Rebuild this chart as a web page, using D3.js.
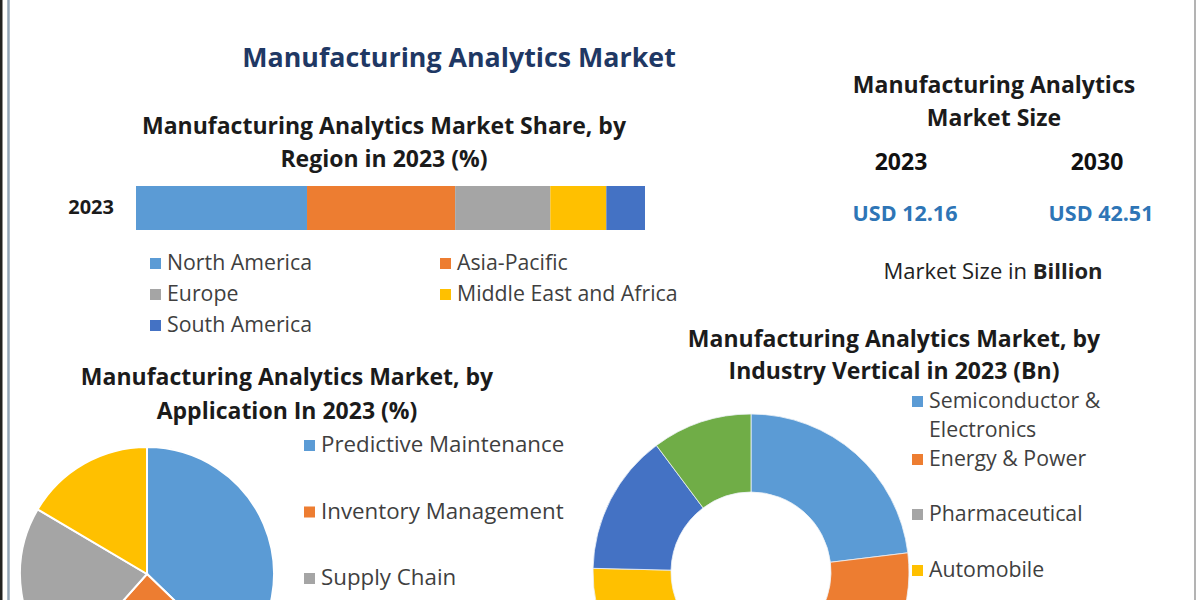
<!DOCTYPE html>
<html>
<head>
<meta charset="utf-8">
<script src="https://cdn.jsdelivr.net/npm/d3@7"></script>
<style>
  html, body { margin: 0; padding: 0; background: #fff; }
  svg { display: block; font-family: 'Open Sans', Lato, sans-serif; }
</style>
</head>
<body>
<div id="chart"></div>
<script>
// region share bar (%)
const regions = ['North America', 'Asia-Pacific', 'Europe', 'Middle East and Africa', 'South America']
const regionShare = [33.6, 29.1, 18.7, 11.0, 7.6]

// application pie (%)
const applications = ['Predictive Maintenance', 'Inventory Management', 'Supply Chain', 'Quality Management']
const applicationShare = [37.2, 24.4, 21.9, 16.5]

// industry vertical donut (Bn)
const verticals = ['Semiconductor & Electronics', 'Energy & Power', 'Pharmaceutical', 'Automobile', 'Aerospace & Defense', 'Others']
const verticalValues = [2.80, 2.26, 2.19, 1.90, 1.75, 1.24]

// market size (USD Bn)
const sizeYears = ['2023', '2030']
const sizeValues = [12.16, 42.51]

const palette = ['#5B9BD5', '#ED7D31', '#A5A5A5', '#FFC000', '#4472C4', '#70AD47']

const W = 1200, H = 600
const svg = d3.select('#chart').append('svg')
  .attr('width', W)
  .attr('height', H)

// frame
svg.append('rect').attr('x', 0).attr('y', 0).attr('width', 2.5).attr('height', H).attr('fill', '#222')
svg.append('line').attr('x1', 8.5).attr('x2', 8.5).attr('y1', 0).attr('y2', H)
  .attr('stroke', '#93a6b8').attr('stroke-width', 2.5)
svg.append('line').attr('x1', 1195).attr('x2', 1195).attr('y1', 0).attr('y2', H)
  .attr('stroke', '#9a9a9a').attr('stroke-width', 1.5)

function title(lines, cx, y0, dy, size) {
  lines.forEach((t, i) => {
    svg.append('text')
      .attr('x', cx)
      .attr('y', y0 + i * dy)
      .attr('text-anchor', 'middle')
      .style('font-size', size + 'px')
      .style('font-weight', 700)
      .attr('fill', '#1b1b1b')
      .text(t)
  })
}

// only items that fit in the picture get drawn (the rest run off the bottom)
function legendItem(g, x, y, color, lines, size, lineGap = 31) {
  if (y > H - 8) return
  g.append('rect')
    .attr('x', x)
    .attr('y', y - 12)
    .attr('width', 11)
    .attr('height', 11)
    .attr('fill', color)
  lines.forEach((t, i) => {
    g.append('text')
      .attr('x', x + 17)
      .attr('y', y + i * lineGap)
      .style('font-size', size + 'px')
      .attr('fill', '#3f3f3f')
      .text(t)
  })
}

// main title
svg.append('text')
  .attr('x', 459)
  .attr('y', 67)
  .attr('text-anchor', 'middle')
  .style('font-size', '26.8px')
  .style('font-weight', 700)
  .attr('fill', '#1F3864')
  .text('Manufacturing Analytics Market')

// ---- region stacked bar ----
title(['Manufacturing Analytics Market Share, by', 'Region in 2023 (%)'], 384, 134, 33, 23)

const x = d3.scaleLinear()
  .domain([0, d3.sum(regionShare)])
  .range([136, 645])

const y = d3.scaleBand()
  .domain(['2023'])
  .range([186, 230])

let acc = 0
const stacked = regionShare.map((v, i) => {
  const d = { name: regions[i], x0: acc, x1: acc + v, color: palette[i] }
  acc += v
  return d
})

svg.append('g')
  .selectAll('rect')
  .data(stacked)
  .join('rect')
  .attr('x', d => x(d.x0))
  .attr('width', d => x(d.x1) - x(d.x0))
  .attr('y', y('2023'))
  .attr('height', y.bandwidth())
  .attr('fill', d => d.color)

svg.append('g')
  .attr('transform', 'translate(136,0)')
  .call(d3.axisLeft(y).tickSize(0).tickPadding(22))
  .call(g => g.select('.domain').remove())
  .selectAll('text')
  .style('font-family', "'Open Sans', sans-serif")
  .style('font-size', '20px')
  .style('font-weight', 700)
  .attr('fill', '#1b1b1b')

const regLegend = svg.append('g')
const regPos = [[150, 270], [440, 270], [150, 301], [440, 301], [150, 332]]
regions.forEach((r, i) => legendItem(regLegend, regPos[i][0], regPos[i][1], palette[i], [r], 21.3))

// ---- market size panel ----
title(['Manufacturing Analytics', 'Market Size'], 994, 93, 33, 23)
const sizeX = [901, 1097]
sizeYears.forEach((yr, i) => {
  svg.append('text')
    .attr('x', sizeX[i])
    .attr('y', 170)
    .attr('text-anchor', 'middle')
    .style('font-size', '23px')
    .style('font-weight', 700)
    .attr('fill', '#111')
    .text(yr)
  svg.append('text')
    .attr('x', sizeX[i] + 4)
    .attr('y', 221)
    .attr('text-anchor', 'middle')
    .style('font-size', '21.5px')
    .style('font-weight', 700)
    .attr('fill', '#2E75B6')
    .text('USD ' + d3.format('.2f')(sizeValues[i]))
})
const msz = svg.append('text')
  .attr('x', 993)
  .attr('y', 279)
  .attr('text-anchor', 'middle')
  .style('font-size', '22px')
  .attr('fill', '#222')
msz.append('tspan').text('Market Size in ')
msz.append('tspan').style('font-weight', 700).text('Billion')

// ---- application pie ----
title(['Manufacturing Analytics Market, by', 'Application In 2023 (%)'], 287, 385, 34, 23)

const pie = d3.pie().sort(null).value(d => d.value)
const appArcs = pie(applications.map((a, i) => ({ name: a, value: applicationShare[i], color: palette[i] })))
const appArc = d3.arc().innerRadius(0).outerRadius(127)

svg.append('g')
  .attr('transform', 'translate(147,574)')
  .selectAll('path')
  .data(appArcs)
  .join('path')
  .attr('d', appArc)
  .attr('fill', d => d.data.color)
  .attr('stroke', '#fff')
  .attr('stroke-width', 2)

const appLegend = svg.append('g')
applications.forEach((a, i) => legendItem(appLegend, 304, 452 + i * 66.5, palette[i], [a], 22.3))

// ---- industry vertical donut ----
title(['Manufacturing Analytics Market, by', 'Industry Vertical in 2023 (Bn)'], 894, 347, 32, 23)

const vArcs = pie(verticals.map((v, i) => ({ name: v, value: verticalValues[i], color: palette[i] })))
const vArc = d3.arc().innerRadius(80).outerRadius(158)

svg.append('g')
  .attr('transform', 'translate(751,572)')
  .selectAll('path')
  .data(vArcs)
  .join('path')
  .attr('d', vArc)
  .attr('fill', d => d.data.color)
  .attr('stroke', '#eef3f8')
  .attr('stroke-width', 0.8)

const vLegend = svg.append('g')
const vLines = [['Semiconductor &', 'Electronics'], ['Energy & Power'], ['Pharmaceutical'], ['Automobile'], ['Aerospace & Defense'], ['Others']]
const vY = [408, 466, 521, 577, 634, 691]
vLines.forEach((l, i) => legendItem(vLegend, 912, vY[i], palette[i], l, 21.3, 29))
</script>
</body>
</html>
